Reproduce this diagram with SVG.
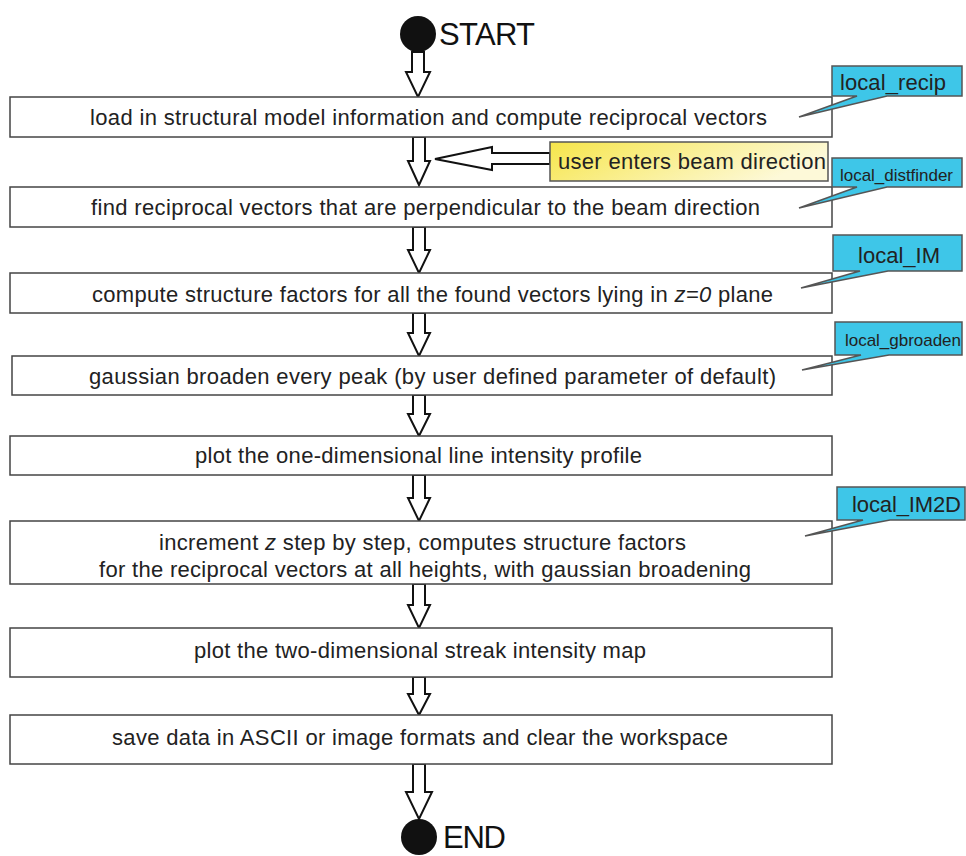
<svg xmlns="http://www.w3.org/2000/svg" width="966" height="856" viewBox="0 0 966 856">
<defs>
<linearGradient id="yel" x1="0" y1="0" x2="1" y2="0.3">
<stop offset="0" stop-color="#f6e54a"/>
<stop offset="1" stop-color="#fdf9d8"/>
</linearGradient>
<style>
.box{fill:#fff;stroke:#444;stroke-width:1.5}
.t{font-family:"Liberation Sans",Arial,sans-serif;font-size:22px;fill:#222}
.arr{fill:#fff;stroke:#111;stroke-width:2;stroke-linejoin:miter}
.call{fill:#3ec6e8;stroke:#555;stroke-width:1.5}
.ct{font-family:"Liberation Sans",Arial,sans-serif;fill:#222}
.big{font-family:"Liberation Sans",Arial,sans-serif;font-size:31px;fill:#111}
</style>
</defs>
<rect width="966" height="856" fill="#fff"/>
<g id="start">
<circle cx="418" cy="34" r="18" fill="#111"/>
<text class="big" x="439" y="45" textLength="96">START</text>
</g>
<g id="end">
<circle cx="419" cy="837" r="18" fill="#111"/>
<text class="big" x="443" y="848" textLength="63">END</text>
</g>
<g id="connectors">
<path class="arr" d="M412 52 H424 V72 H430 L418 97 L406 72 H412 Z"/>
<path class="arr" d="M413 137 H425 V161 H430 L419 185 L408 161 H413 Z"/>
<path class="arr" d="M413 227 H425 V250 H430 L419 273 L408 250 H413 Z"/>
<path class="arr" d="M413 313 H425 V333 H430 L419 356 L408 333 H413 Z"/>
<path class="arr" d="M413 395 H425 V414 H430 L419 436 L408 414 H413 Z"/>
<path class="arr" d="M413 475 H425 V498 H430 L419 521 L408 498 H413 Z"/>
<path class="arr" d="M413 584 H425 V605 H430 L419 628 L408 605 H413 Z"/>
<path class="arr" d="M413 677 H425 V694 H430 L419 715 L408 694 H413 Z"/>
<path class="arr" d="M413 764 H425 V792 H432 L419 819 L406 792 H413 Z"/>
<path class="arr" d="M550 153 H492 V147 L435 159 L492 170 V164 H550 Z"/>
</g>
<g id="n1"><rect class="box" x="10" y="97" width="822" height="40"/><text class="t" x="90" y="125" textLength="677">load in structural model information and compute reciprocal vectors</text></g>
<g id="n2"><rect class="box" x="10" y="187" width="822" height="40"/><text class="t" x="91" y="215" textLength="669">find reciprocal vectors that are perpendicular to the beam direction</text></g>
<g id="n3"><rect class="box" x="10" y="273" width="822" height="40"/><text class="t" x="92" y="302" textLength="681">compute structure factors for all the found vectors lying in <tspan font-style="italic">z=0</tspan> plane</text></g>
<g id="n4"><rect class="box" x="12" y="356" width="820" height="39"/><text class="t" x="89" y="384" textLength="687">gaussian broaden every peak (by user defined parameter of default)</text></g>
<g id="n5"><rect class="box" x="10" y="436" width="822" height="39"/><text class="t" x="195" y="463" textLength="447">plot the one-dimensional line intensity profile</text></g>
<g id="n6"><rect class="box" x="10" y="521" width="822" height="63"/><text class="t" x="159" y="550" textLength="527">increment <tspan font-style="italic">z</tspan> step by step, computes structure factors</text><text class="t" x="99" y="577" textLength="652">for the reciprocal vectors at all heights, with gaussian broadening</text></g>
<g id="n7"><rect class="box" x="10" y="628" width="822" height="49"/><text class="t" x="194" y="658" textLength="452">plot the two-dimensional streak intensity map</text></g>
<g id="n8"><rect class="box" x="10" y="715" width="822" height="49"/><text class="t" x="112" y="745" textLength="616">save data in ASCII or image formats and clear the workspace</text></g>
<g id="user-input"><rect x="550" y="142" width="278" height="39" fill="url(#yel)" stroke="#555" stroke-width="1.5"/><text class="ct" x="558" y="169" font-size="22" textLength="268">user enters beam direction</text></g>
<g id="c1"><path class="call" d="M832 66 H962 V96 H887 L799 117 L857 96 H832 Z"/><text class="ct" x="840" y="90" font-size="22" textLength="106">local_recip</text></g>
<g id="c2"><path class="call" d="M832 158 H962 V187 H887 L799 208 L857 187 H832 Z"/><text class="ct" x="840" y="181" font-size="17" textLength="113">local_distfinder</text></g>
<g id="c3"><path class="call" d="M833 235 H962 V271 H888 L801 288 L860 271 H833 Z"/><text class="ct" x="858" y="263" font-size="22" textLength="82">local_IM</text></g>
<g id="c4"><path class="call" d="M835 322 H962 V355 H889 L802 370 L861 355 H835 Z"/><text class="ct" x="845" y="346" font-size="17" textLength="116">local_gbroaden</text></g>
<g id="c5"><path class="call" d="M837 487 H965 V520 H890 L805 536 L863 520 H837 Z"/><text class="ct" x="852" y="512" font-size="22" textLength="109">local_IM2D</text></g>
</svg>
